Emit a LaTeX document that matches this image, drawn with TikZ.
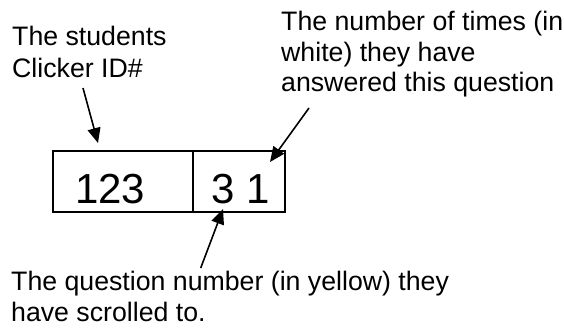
\documentclass[tikz,border=0pt]{standalone}
\usepackage{fontspec}
\setmainfont{Liberation Sans}
\usepackage{tikz}
\usetikzlibrary{arrows.meta, positioning}
\tikzset{
  label/.style={inner sep=0pt, anchor=north west, align=left},
  cell/.style={rectangle, draw=black, line width=1.8pt, inner sep=0pt},
  num/.style={inner sep=0pt, anchor=base west, font=\fontsize{42}{50}\selectfont},
  arrow/.style={-{Triangle[length=15pt,width=13pt]}, line width=1.6pt, color=black}
}

\begin{document}
\begin{tikzpicture}[x=1pt, y=-1pt]
  \useasboundingbox (0,0) rectangle (564,327);
  % the two cells of the clicker display
  \node[cell, minimum width=140pt, minimum height=61pt] (idcell) at (123,181.5) {};
  \node[cell, minimum width=92pt, minimum height=61pt] (qcell) at (239,181.5) {};
  \node[num] (idnum) at (75,203.3) {123};
  \node[num] (qnum) at (211,203.3) {3 1};

  % labels
  \node[label, font=\fontsize{26.7}{32}\selectfont] (idlabel) at (12,26) {The students\\Clicker ID\#};
  \node[label, font=\fontsize{26.7}{30.5}\selectfont] (timeslabel) at (281,11) {The number of times (in\\white) they have\\answered this question};
  \node[label, font=\fontsize{26.7}{30.5}\selectfont] (qlabel) at (11,271) {The question number (in yellow) they\\have scrolled to.};

  % arrow ends
  \coordinate (idtail) at (83,88);
  \coordinate (idtip) at (98,143);
  \coordinate (timestail) at (309,108);
  \coordinate (timestip) at (270,162);
  \coordinate (qtail) at (200.7,268);
  \coordinate (qtip) at (223,209);

  \draw[arrow] (idtail) -- (idtip);
  \draw[arrow] (timestail) -- (timestip);
  \draw[arrow] (qtail) -- (qtip);
\end{tikzpicture}
\end{document}
